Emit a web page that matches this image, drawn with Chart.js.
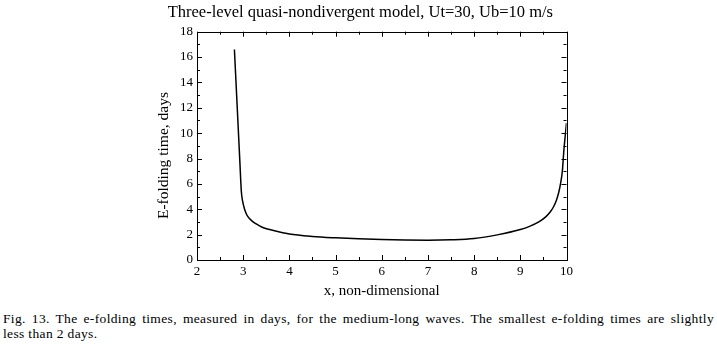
<!DOCTYPE html>
<html>
<head>
<meta charset="utf-8">
<script src="https://cdn.jsdelivr.net/npm/chart.js@4.4.0/dist/chart.umd.min.js"></script>
<style>
  html, body { margin: 0; padding: 0; background: #fff; }
  #wrap { position: relative; width: 717px; height: 344px; overflow: hidden; }
  #chart { position: absolute; left: 0; top: 0; }
  .cap { position: absolute; left: 3px; width: 711px; font-family: "Liberation Serif", serif; font-size: 13.5px; line-height: 14.5px; letter-spacing: 0.35px; color: #000; white-space: nowrap; }
  #cap1 { top: 312px; text-align: justify; text-align-last: justify; white-space: normal; }
  #cap2 { top: 326.5px; }
</style>
</head>
<body>
<div id="wrap">
  <canvas id="chart" width="717" height="305"></canvas>
  <div class="cap" id="cap1">Fig. 13. The e-folding times, measured in days, for the medium-long waves. The smallest e-folding times are slightly</div>
  <div class="cap" id="cap2">less than 2 days.</div>
</div>
<script>
// x (non-dimensional) and e-folding time (days)
var xValues = [2.81, 2.85, 2.89, 2.93, 2.96, 2.99, 3.03, 3.08, 3.14, 3.2, 3.3, 3.4, 3.55, 3.7,
               4.0, 4.5, 5.0, 5.5, 6.0, 6.5, 7.0, 7.5, 8.0, 8.5, 9.0, 9.2, 9.4, 9.55, 9.65,
               9.72, 9.78, 9.83, 9.87, 9.91, 9.94, 9.97, 10.0];
var eFolding = [16.6, 13.6, 10.6, 7.6, 5.4, 4.6, 4.0, 3.55, 3.25, 3.05, 2.8, 2.6, 2.42, 2.28,
                2.05, 1.86, 1.75, 1.67, 1.61, 1.57, 1.56, 1.59, 1.69, 1.98, 2.4, 2.65, 3.0, 3.4, 3.8,
                4.2, 4.7, 5.3, 6.0, 7.0, 8.5, 9.7, 10.8];

var xTicks = [2, 3, 4, 5, 6, 7, 8, 9, 10];
var yTicks = [0, 2, 4, 6, 8, 10, 12, 14, 16, 18];

var serif = "'Liberation Serif', 'Times New Roman', serif";

var points = [];
for (var i = 0; i < xValues.length; i++) points.push({x: xValues[i], y: eFolding[i]});

// frame on all four sides with inward ticks (major + minor)
var frameTicks = {
  id: 'frameTicks',
  afterDatasetsDraw: function (chart) {
    var ctx = chart.ctx, a = chart.chartArea;
    var xs = chart.scales.x, ys = chart.scales.y;
    ctx.save();
    ctx.strokeStyle = '#000';
    ctx.lineWidth = 1;
    ctx.strokeRect(Math.round(a.left) + 0.5, Math.round(a.top) + 0.5,
                   Math.round(a.right - a.left), Math.round(a.bottom - a.top));
    ctx.beginPath();
    for (var v = xTicks[0]; v <= xTicks[xTicks.length - 1] + 1e-9; v += 0.5) {
      var px = Math.round(xs.getPixelForValue(v)) + 0.5;
      var len = (v % 1 === 0) ? 5 : 3;
      ctx.moveTo(px, a.bottom); ctx.lineTo(px, a.bottom - len);
      ctx.moveTo(px, a.top); ctx.lineTo(px, a.top + len);
    }
    for (var w = yTicks[0]; w <= yTicks[yTicks.length - 1] + 1e-9; w += 1) {
      var py = Math.round(ys.getPixelForValue(w)) + 0.5;
      var l2 = (w % 2 === 0) ? 5 : 3;
      ctx.moveTo(a.left, py); ctx.lineTo(a.left + l2, py);
      ctx.moveTo(a.right, py); ctx.lineTo(a.right - l2, py);
    }
    ctx.stroke();
    ctx.restore();
  }
};

var ctx = document.getElementById('chart').getContext('2d');
var chart = new Chart(ctx, {
  type: 'line',
  data: {
    datasets: [{
      data: points,
      borderColor: '#000',
      borderWidth: 1.5,
      pointRadius: 0,
      fill: false,
      cubicInterpolationMode: 'monotone'
    }]
  },
  options: {
    responsive: false,
    animation: false,
    layout: { padding: { left: 154.2, right: 150.5, top: 0, bottom: 0 } },
    plugins: {
      legend: { display: false },
      tooltip: { enabled: false },
      title: {
        display: true,
        text: 'Three-level quasi-nondivergent model, Ut=30, Ub=10 m/s',
        color: '#000',
        font: { family: serif, size: 16.5, weight: 'normal' },
        padding: { top: 3, bottom: 8.9 }
      }
    },
    scales: {
      x: {
        type: 'linear',
        min: 2, max: 10,
        afterBuildTicks: function (s) { s.ticks = xTicks.map(function (v) { return {value: v}; }); },
        afterFit: function (s) { s.height = 45; },
        grid: { display: false, drawTicks: false },
        border: { display: false },
        ticks: { color: '#000', padding: 4, font: { family: serif, size: 13 } },
        title: {
          display: true, text: 'x, non-dimensional', color: '#000',
          font: { family: serif, size: 15 }, padding: { top: 0, bottom: 4.5 }
        }
      },
      y: {
        min: 0, max: 18,
        afterBuildTicks: function (s) { s.ticks = yTicks.map(function (v) { return {value: v}; }); },
        afterFit: function (s) { s.width = 42.8; },
        grid: { display: false, drawTicks: false },
        border: { display: false },
        ticks: { color: '#000', padding: 4, font: { family: serif, size: 13 } },
        title: {
          display: true, text: 'E-folding time, days\u00a0\u00a0\u00a0\u00a0\u00a0', color: '#000',
          font: { family: serif, size: 15.5 }, padding: { top: 0, bottom: 0 }
        }
      }
    }
  },
  plugins: [frameTicks]
});
</script>
</body>
</html>
